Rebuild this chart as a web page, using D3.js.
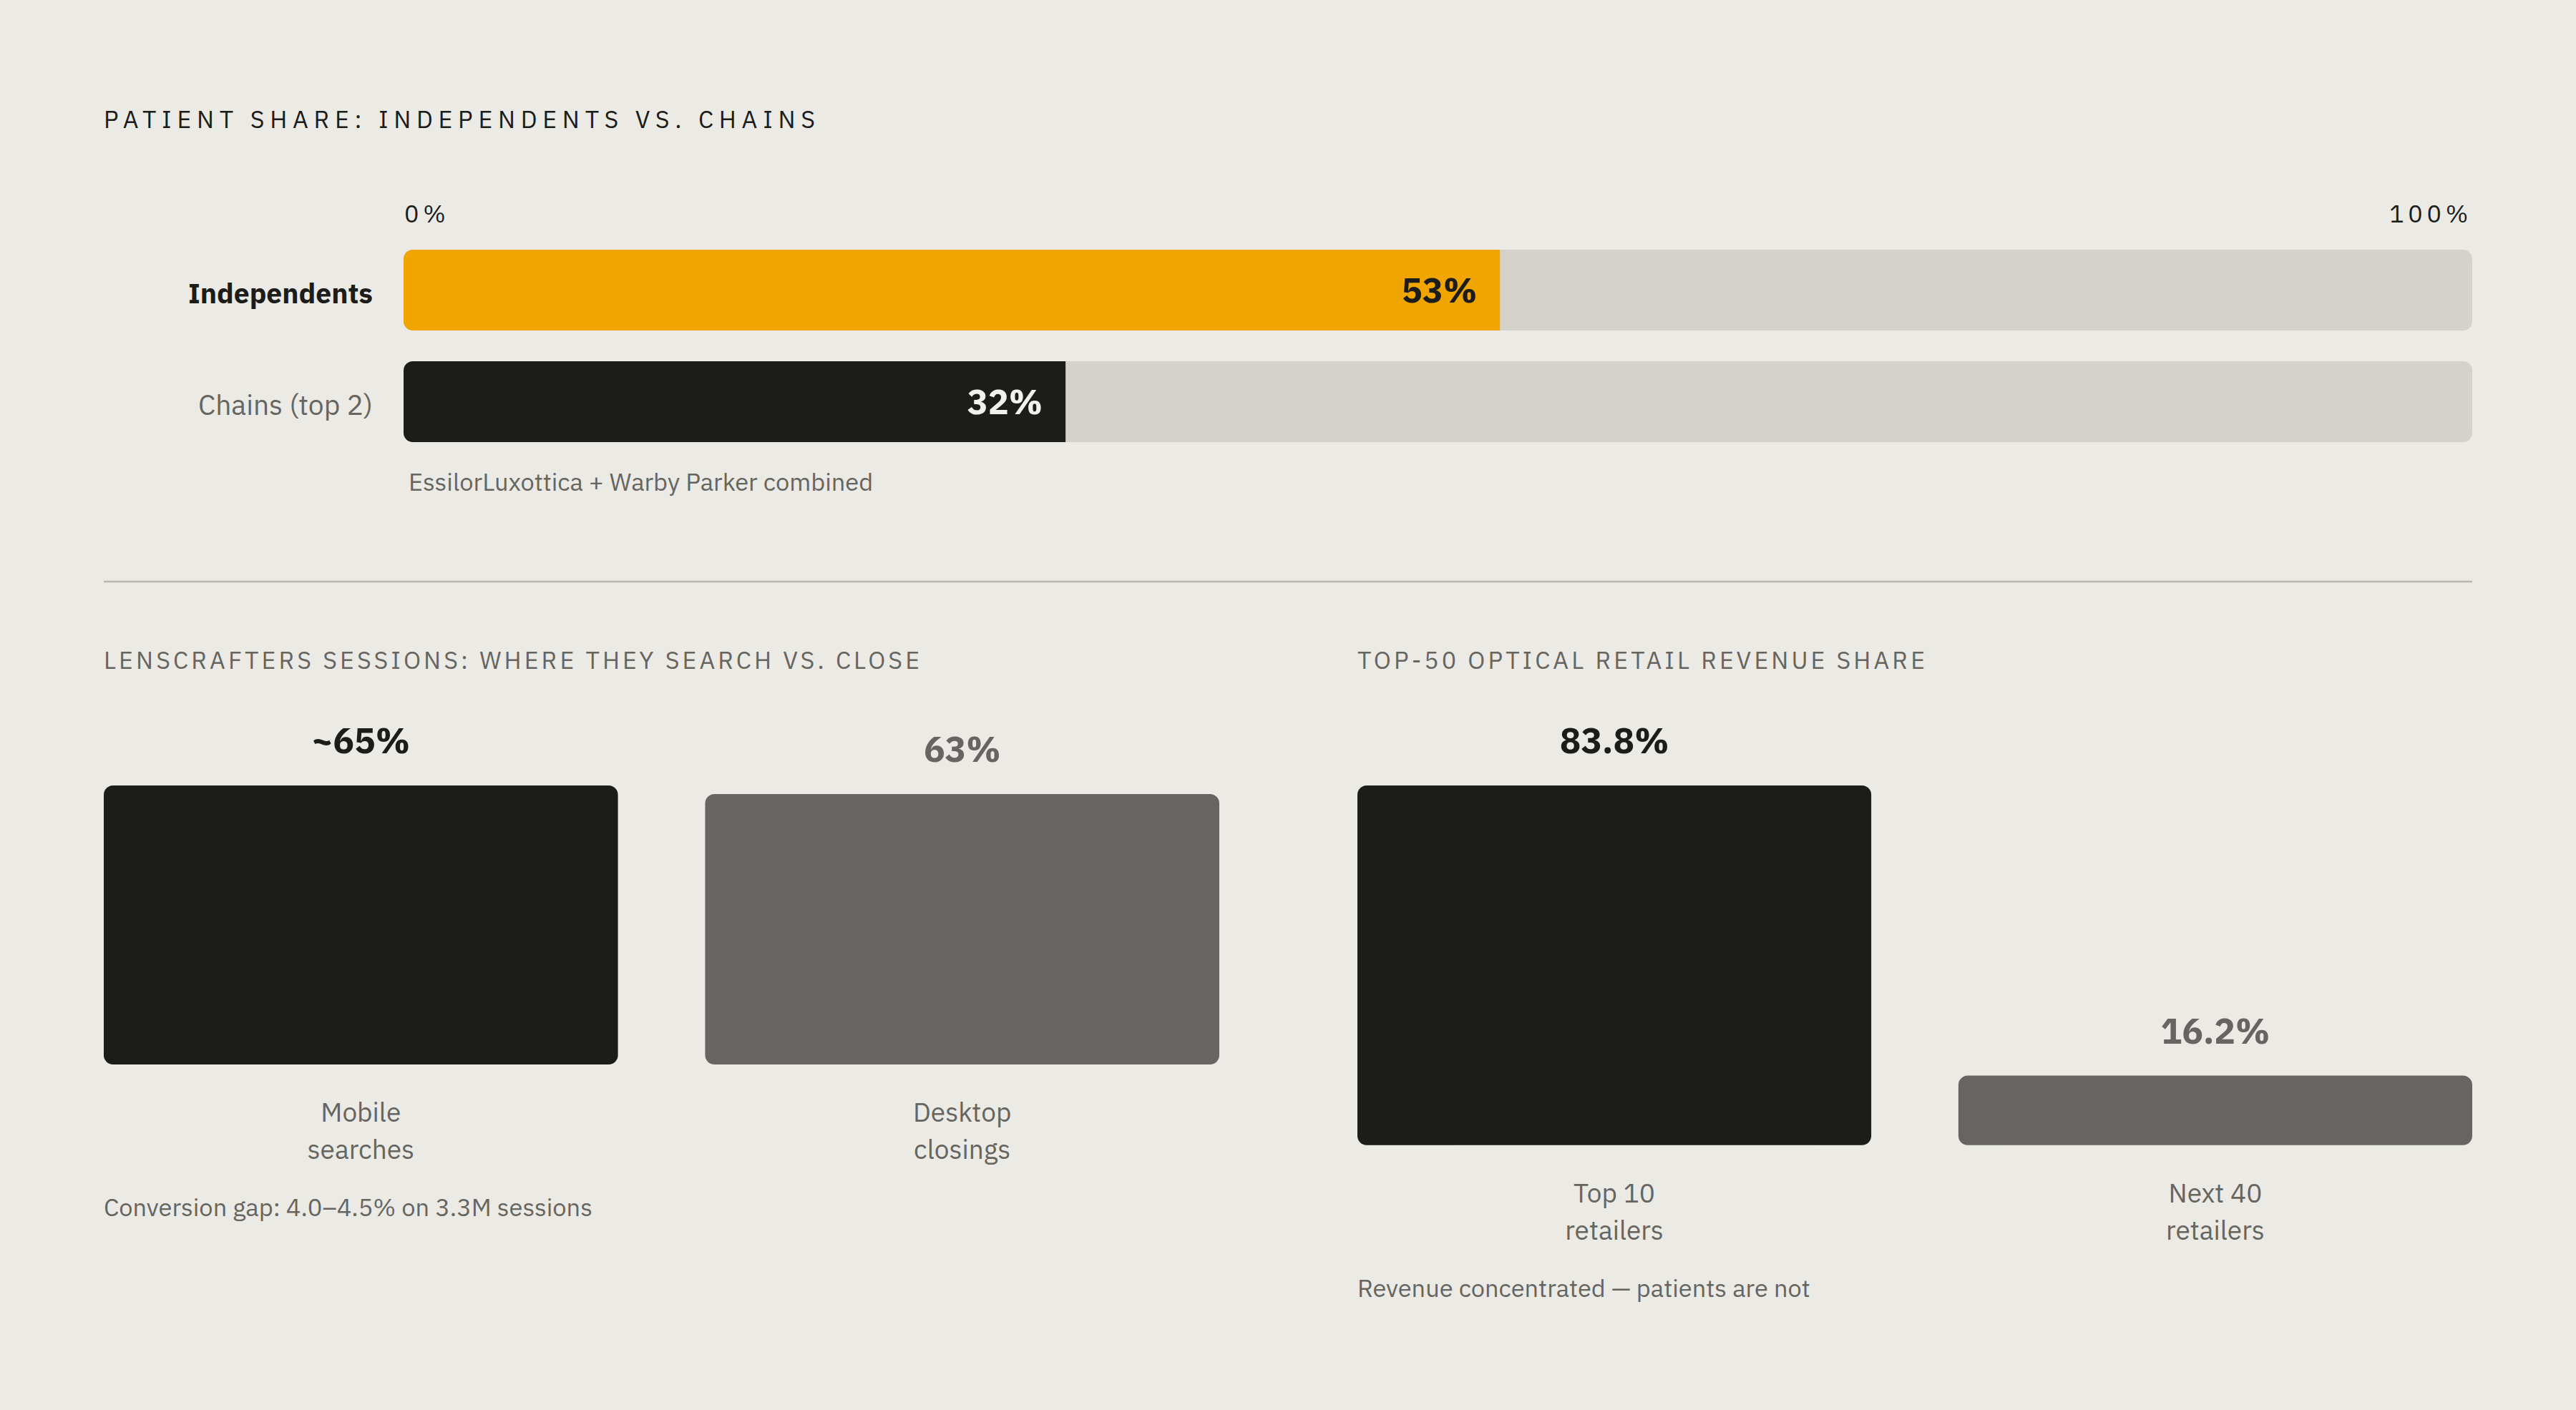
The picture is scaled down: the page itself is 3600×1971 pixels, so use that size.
<!DOCTYPE html>
<html>
<head>
<meta charset="utf-8">
<script src="https://cdn.jsdelivr.net/npm/d3@7"></script>
<style>
  html, body { margin: 0; padding: 0; background: #ebeae5; }
  svg { display: block; }
  text { font-family: "IBM Plex Sans", Inter, "Noto Sans", sans-serif; }
</style>
</head>
<body>
<svg id="chart" width="3600" height="1971"></svg>
<script>
// ---------- data ----------
const shareTitle = "PATIENT SHARE: INDEPENDENTS VS. CHAINS";
const shareCategories = ["Independents", "Chains (top 2)"];
const shareValues = [53, 32];
const shareValueLabels = ["53%", "32%"];
const shareTicks = [0, 100];
const shareTickLabels = ["0%", "100%"];
const shareNote = "EssilorLuxottica + Warby Parker combined";

const sessionTitle = "LENSCRAFTERS SESSIONS: WHERE THEY SEARCH VS. CLOSE";
const sessionCategories = [["Mobile", "searches"], ["Desktop", "closings"]];
const sessionValues = [65, 63];
const sessionValueLabels = ["~65%", "63%"];
const sessionNote = "Conversion gap: 4.0\u20134.5% on 3.3M sessions";

const revenueTitle = "TOP-50 OPTICAL RETAIL REVENUE SHARE";
const revenueCategories = [["Top 10", "retailers"], ["Next 40", "retailers"]];
const revenueValues = [83.8, 16.2];
const revenueValueLabels = ["83.8%", "16.2%"];
const revenueNote = "Revenue concentrated \u2014 patients are not";

// ---------- style ----------
const C = {
  bg: "#ebeae5", dark: "#1c1c1a", gray: "#666561", text2: "#66655f",
  orange: "#f0a500", track: "#d5d2cb", rule: "#b8b5ae", light: "#f3f1ec"
};

(function () {
const svg = d3.select("#chart");
svg.append("rect").attr("width", 3600).attr("height", 1971).attr("fill", C.bg);

function spacedTitle(g, txt, x, y, targetW, size, color) {
  const t = g.append("text").attr("x", x).attr("y", y)
    .attr("font-size", size).attr("fill", color).text(txt);
  const w = t.node().getComputedTextLength();
  const n = txt.length;
  const ls = Math.max(0, (targetW - w) / (n - 1));
  t.attr("letter-spacing", ls);
  return t;
}

// ---------- top: horizontal share bars ----------
const left = 145, right = 3455;
const topG = svg.append("g");
spacedTitle(topG, shareTitle, left, 179, 994, 34, C.dark);

const x = d3.scaleLinear().domain([0, 100]).range([564, right]);
const yb = d3.scaleBand().domain(shareCategories).range([349, 618]).paddingInner(0.276).paddingOuter(0);
const r = 13;

shareTicks.forEach((t, i) => {
  topG.append("text")
    .attr("x", x(t) + (i === 0 ? 1 : 0))
    .attr("y", 311)
    .attr("font-size", 34)
    .attr("letter-spacing", "0.17em")
    .attr("text-anchor", i === 0 ? "start" : "end")
    .attr("fill", C.dark)
    .text(shareTickLabels[i]);
});

topG.selectAll("rect.track").data(shareCategories).join("rect")
  .attr("class", "track")
  .attr("x", x(0)).attr("y", d => yb(d))
  .attr("width", x(100) - x(0)).attr("height", yb.bandwidth())
  .attr("rx", r).attr("fill", C.track);

function leftRounded(x0, y0, w, h, rr) {
  return `M${x0 + rr},${y0}H${x0 + w}V${y0 + h}H${x0 + rr}` +
    `A${rr},${rr} 0 0 1 ${x0},${y0 + h - rr}V${y0 + rr}A${rr},${rr} 0 0 1 ${x0 + rr},${y0}Z`;
}
const shareColors = [C.orange, C.dark];
topG.selectAll("path.fill").data(shareValues).join("path")
  .attr("class", "fill")
  .attr("d", (v, i) => leftRounded(x(0), yb(shareCategories[i]), x(v) - x(0), yb.bandwidth(), r))
  .attr("fill", (v, i) => shareColors[i]);

topG.selectAll("text.val").data(shareValues).join("text")
  .attr("class", "val")
  .attr("x", v => x(v) - 32)
  .attr("y", (v, i) => yb(shareCategories[i]) + yb.bandwidth() / 2)
  .attr("dy", "0.36em")
  .attr("text-anchor", "end")
  .attr("font-size", 48.5).attr("font-weight", 700)
  .attr("fill", (v, i) => i === 0 ? C.dark : C.light)
  .text((v, i) => shareValueLabels[i]);

topG.selectAll("text.cat").data(shareCategories).join("text")
  .attr("class", "cat")
  .attr("x", 521)
  .attr("y", d => yb(d) + yb.bandwidth() / 2 + 4)
  .attr("dy", "0.36em")
  .attr("text-anchor", "end")
  .attr("font-size", 39)
  .attr("font-weight", (d, i) => i === 0 ? 700 : 400)
  .attr("fill", (d, i) => i === 0 ? C.dark : C.text2)
  .text(d => d);

topG.append("text").attr("x", 571).attr("y", 686)
  .attr("font-size", 34.4).attr("fill", C.text2).text(shareNote);

svg.append("line").attr("x1", left).attr("x2", right).attr("y1", 813).attr("y2", 813)
  .attr("stroke", C.rule).attr("stroke-width", 2.5);

// ---------- bottom: vertical bar panels ----------
const h = d3.scaleLinear().domain([0, 100]).range([0, 600]);
const barsTop = 1098;

function panel(x0, x1, title, titleW, cats, vals, labels, note) {
  const g = svg.append("g");
  spacedTitle(g, title, x0, 935, titleW, 34, C.text2);
  const xb = d3.scaleBand().domain(d3.range(vals.length)).range([x0, x1]).paddingInner(0.145).paddingOuter(0);
  const base = barsTop + h(d3.max(vals));
  const colors = [C.dark, C.gray];
  g.selectAll("rect.bar").data(vals).join("rect")
    .attr("class", "bar")
    .attr("x", (v, i) => xb(i)).attr("width", xb.bandwidth())
    .attr("y", v => base - h(v)).attr("height", v => h(v))
    .attr("rx", 13).attr("fill", (v, i) => colors[i]);
  g.selectAll("text.val").data(vals).join("text")
    .attr("class", "val")
    .attr("x", (v, i) => xb(i) + xb.bandwidth() / 2)
    .attr("y", v => base - h(v) - 45)
    .attr("text-anchor", "middle")
    .attr("font-size", 49.5).attr("font-weight", 700)
    .attr("fill", (v, i) => colors[i])
    .text((v, i) => labels[i]);
  cats.forEach((lines, i) => {
    lines.forEach((ln, j) => {
      g.append("text")
        .attr("x", xb(i) + xb.bandwidth() / 2)
        .attr("y", base + 80 + j * 52)
        .attr("text-anchor", "middle")
        .attr("font-size", 37).attr("fill", C.text2)
        .text(ln);
    });
  });
  g.append("text").attr("x", x0).attr("y", base + 212)
    .attr("font-size", 34.4).attr("fill", C.text2).text(note);
}

panel(145, 1704, sessionTitle, 1140, sessionCategories, sessionValues, sessionValueLabels, sessionNote);
panel(1897, 3455, revenueTitle, 793, revenueCategories, revenueValues, revenueValueLabels, revenueNote);
})();
</script>
</body>
</html>
